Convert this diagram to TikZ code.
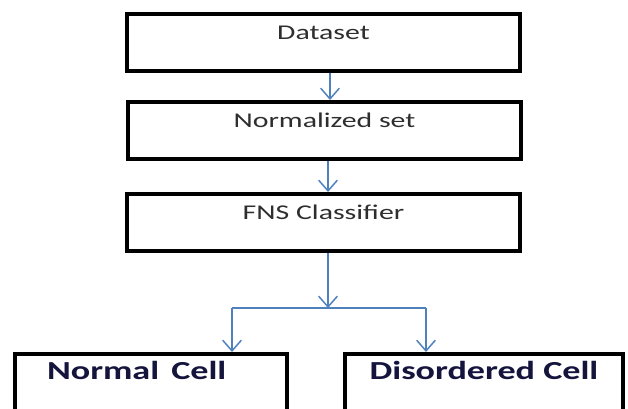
\documentclass[tikz,border=0pt]{standalone}
\usepackage{fontspec}
\usepackage{graphicx}
\setmainfont{Carlito}
\usetikzlibrary{arrows.meta}
\definecolor{arrowblue}{HTML}{4F81BD}
\definecolor{txtgray}{HTML}{2E2E2E}
\definecolor{txtnavy}{HTML}{14143C}
\begin{document}
\begin{tikzpicture}[x=0.75pt,y=-0.75pt,
  topbox/.style={draw=black, line width=3pt, inner sep=0pt,
    minimum width=393*0.75pt, text height=26*0.75pt, text depth=31*0.75pt,
    text=txtgray, font=\fontsize{15.75pt}{18pt}\selectfont, anchor=north},
  botbox/.style={draw=black, line width=3pt, inner sep=0pt,
    text height=26*0.75pt, text depth=44*0.75pt,
    text=txtnavy, font=\fontsize{19.5pt}{22pt}\selectfont\bfseries, anchor=north},
  arr/.style={draw=arrowblue, line width=1.1pt, -{Straight Barb[width=14pt,length=8pt]}},
  arrline/.style={draw=arrowblue, line width=1.1pt}]
\useasboundingbox (0,0) rectangle (628,409);
\clip (0,0) rectangle (628,409);
\fill[white] (0,0) rectangle (628,409);

\node[topbox] (ds) at (323.5,12) {\scalebox{1.42}[1]{Dataset}};
\node[topbox] (ns) at (324.5,100) {\scalebox{1.42}[1]{Normalized set}};
\node[topbox] (fns) at (323.5,192) {\scalebox{1.42}[1]{FNS Classifier}};

\node[botbox, minimum width=272*0.75pt, text width=208*0.75pt, align=left] (nc) at (151,352) {\scalebox{1.39}[1]{Normal Cell}};
\node[botbox, minimum width=278*0.75pt] (dc) at (484,352) {\scalebox{1.39}[1]{Disordered Cell}};

\coordinate (a1) at (330,0);
\coordinate (a2) at (328,0);
\draw[arr] (a1 |- ds.south) -- (a1 |- ns.north);
\draw[arr] (a2 |- ns.south) -- (a2 |- fns.north);

\coordinate (bc) at (328,308);
\coordinate (bl) at (232,308);
\coordinate (bri) at (426,308);
\draw[arr] (bc |- fns.south) -- (bc);
\draw[arrline] (bl) -- (bri);
\draw[arr] (bl) -- (bl |- nc.north);
\draw[arr] (bri) -- (bri |- dc.north);
\end{tikzpicture}
\end{document}
